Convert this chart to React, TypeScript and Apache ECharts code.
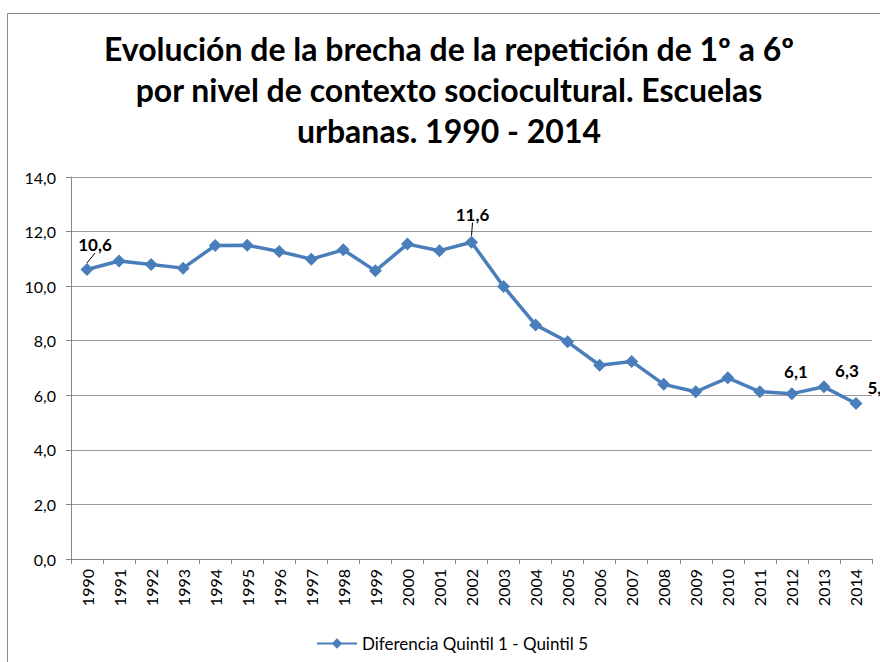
import React, { useEffect, useRef } from "react";
import * as echarts from "echarts";

const TITLE_LINES = [
  "Evolución de la brecha de la repetición de 1º a 6º",
  "por nivel de contexto sociocultural. Escuelas",
  "urbanas. 1990 - 2014",
];
const SERIES_NAME = "Diferencia Quintil 1 - Quintil 5";
const YEARS = [
  "1990", "1991", "1992", "1993", "1994", "1995", "1996", "1997", "1998", "1999",
  "2000", "2001", "2002", "2003", "2004", "2005", "2006", "2007", "2008", "2009",
  "2010", "2011", "2012", "2013", "2014",
];
const GAP_VALUES = [
  10.61, 10.92, 10.79, 10.66, 11.49, 11.5, 11.27, 10.99, 11.33, 10.56,
  11.54, 11.3, 11.61, 9.99, 8.58, 7.96, 7.1, 7.24, 6.4, 6.13,
  6.64, 6.13, 6.06, 6.31, 5.7,
];
const LABELED_YEARS = ["1990", "2002", "2012", "2013", "2014"];
const LEADER_YEARS = ["1990", "2002"];

const FONT = "Lato, 'Open Sans', sans-serif";
const fmt = (v: number) => v.toFixed(1).replace(".", ",");

// label shift (px) per labelled year
const LABEL_SHIFT: Record<string, [number, number]> = {
  "1990": [8, -5],
  "2002": [1, -8],
  "2012": [4, -2],
  "2013": [23, 4],
  "2014": [0, -16],
};

export default function App() {
  const ref = useRef<HTMLDivElement>(null);
  useEffect(() => {
    if (!ref.current) return;
    const chart = echarts.init(ref.current, null, { renderer: "svg" });
    const data = GAP_VALUES.map((v, i) => {
      const y = YEARS[i];
      if (!LABELED_YEARS.includes(y)) return { value: v };
      return {
        value: v,
        label: { show: true, position: y === "2014" ? "right" : "top" },
        labelLine: { show: LEADER_YEARS.includes(y), lineStyle: { color: "#000", width: 1 } },
      };
    });
    chart.setOption({
      animation: false,
      backgroundColor: "#fff",
      textStyle: { fontFamily: FONT },
      title: {
        text: TITLE_LINES.join("\n"),
        left: 444,
        textAlign: "center",
        top: 23,
        textStyle: {
          fontFamily: FONT,
          fontWeight: "bold",
          fontSize: 32,
          lineHeight: 41,
          color: "#000",
        },
      },
      graphic: [
        {
          type: "rect",
          z: -10,
          shape: { x: 7.5, y: 13.5, width: 900, height: 700 },
          style: { fill: "none", stroke: "#8a8a8a", lineWidth: 1 },
        },
      ],
      grid: { left: 71, top: 177, width: 801, height: 382, containLabel: false },
      legend: {
        left: 311,
        top: 630,
        itemWidth: 40,
        itemHeight: 13,
        itemGap: 4,
        textStyle: { fontFamily: FONT, fontSize: 17, color: "#000" },
        data: [SERIES_NAME],
      },
      xAxis: {
        type: "category",
        data: YEARS,
        boundaryGap: true,
        axisLine: { lineStyle: { color: "#868686", width: 1 } },
        axisTick: { show: true, interval: 0, length: 5, lineStyle: { color: "#868686" } },
        axisLabel: {
          interval: 0,
          rotate: 90,
          margin: 10,
          fontFamily: FONT,
          fontSize: 16,
          color: "#000",
        },
      },
      yAxis: {
        type: "value",
        min: 0,
        max: 14,
        interval: 2,
        axisLine: { show: true, lineStyle: { color: "#868686", width: 1 } },
        axisTick: { show: true, length: 5, lineStyle: { color: "#868686" } },
        splitLine: { lineStyle: { color: "#9a9a9a", width: 1 } },
        axisLabel: {
          formatter: (v: number) => fmt(v),
          margin: 15,
          fontFamily: FONT,
          fontSize: 16,
          color: "#000",
        },
      },
      series: [
        {
          name: SERIES_NAME,
          type: "line",
          data,
          color: "#4A7EBB",
          lineStyle: { width: 3.5, color: "#4A7EBB" },
          symbol: "diamond",
          symbolSize: 13,
          itemStyle: { color: "#4A7EBB" },
          label: {
            show: false,
            fontFamily: FONT,
            fontWeight: "bold",
            fontSize: 17,
            color: "#000",
            formatter: (p: any) => fmt(p.value),
          },
          labelLayout: (p: any) => {
            const s = LABEL_SHIFT[YEARS[p.dataIndex]];
            return s ? { dx: s[0], dy: s[1] } : {};
          },
        },
      ],
    });
    return () => chart.dispose();
  }, []);
  return (
    <div
      ref={ref}
      style={{ position: "fixed", left: 0, top: 0, width: 880, height: 662 }}
    />
  );
}
